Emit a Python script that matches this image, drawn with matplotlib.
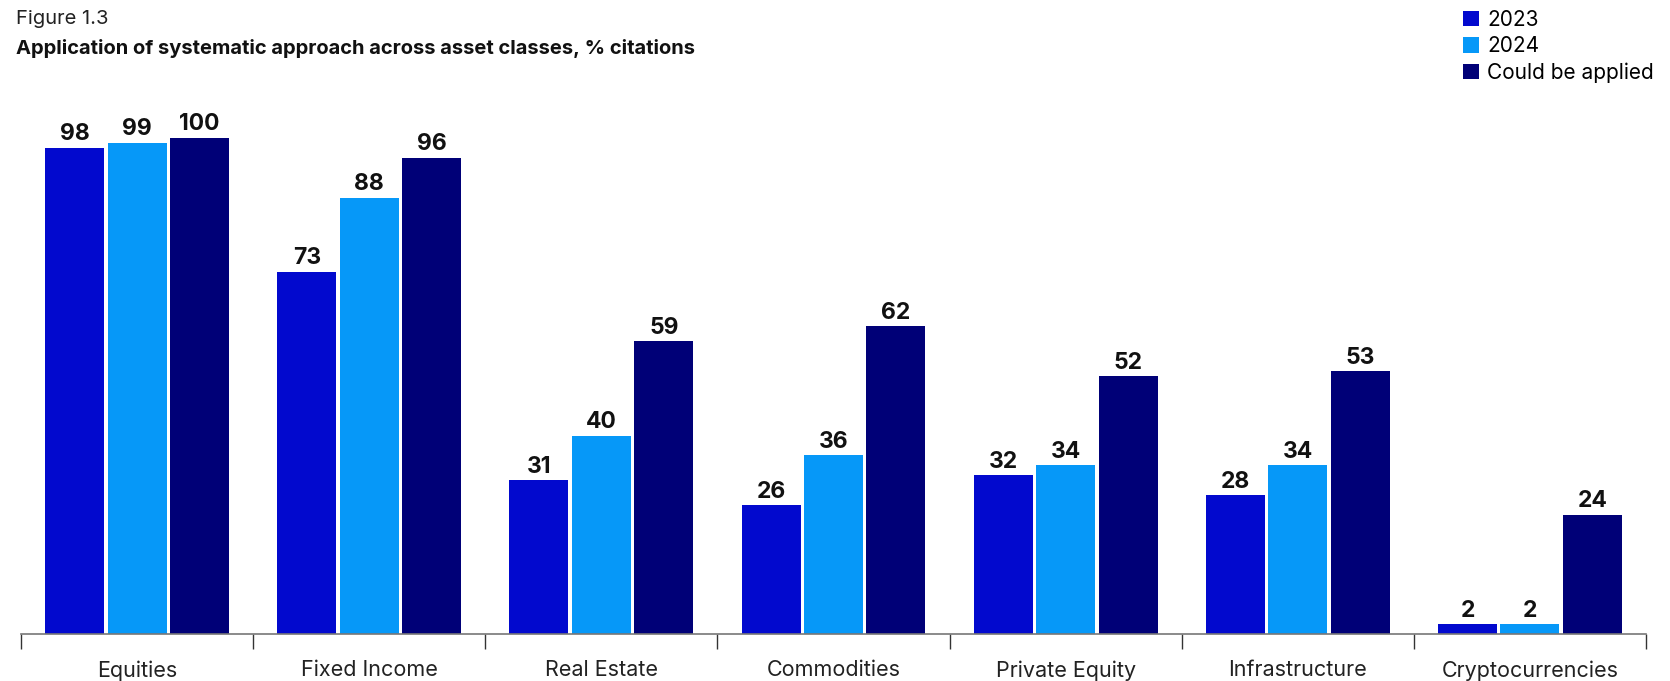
import numpy as np
import matplotlib.pyplot as plt
from matplotlib.patches import Patch

plt.rcParams['font.family'] = ['Inter', 'DejaVu Sans']

categories = ['Equities', 'Fixed Income', 'Real Estate', 'Commodities',
              'Private Equity', 'Infrastructure', 'Cryptocurrencies']
series_names = ['2023', '2024', 'Could be applied']
vals_2023 = [98, 73, 31, 26, 32, 28, 2]
vals_2024 = [99, 88, 40, 36, 34, 34, 2]
vals_could = [100, 96, 59, 62, 52, 53, 24]
colors = ['#0209CE', '#0698F8', '#000077']

fig = plt.figure(figsize=(16.7, 6.81), dpi=100)
ax = fig.add_axes([21/1670, 1 - 634/681, (1646 - 21)/1670, (634 - 138)/681])

x = np.arange(len(categories))
w = 0.254
step = 0.269
for i, (vals, c) in enumerate(zip([vals_2023, vals_2024, vals_could], colors)):
    pos = x + (i - 1) * step
    bars = ax.bar(pos, vals, width=w, color=c, zorder=2)
    for b, v in zip(bars, vals):
        ax.annotate(str(v), (b.get_x() + b.get_width() / 2, v), xytext=(0, 1.8),
                    textcoords='offset points', ha='center', va='bottom',
                    fontsize=16.5, fontweight='bold', color='#111111',
                    annotation_clip=False)

ax.set_xlim(-0.5, len(categories) - 0.5)
ax.set_ylim(0, 100)
for s in ['top', 'right', 'left']:
    ax.spines[s].set_visible(False)
ax.spines['bottom'].set_color('#777777')
ax.spines['bottom'].set_linewidth(1.2)
ax.set_yticks([])

# group boundaries as ticks, labels sit on minor ticks at centers
ax.set_xticks(np.arange(len(categories) + 1) - 0.5)
ax.set_xticklabels([])
ax.tick_params(axis='x', which='major', length=11, width=1, color='#333333')
ax.set_xticks(x, minor=True)
ax.set_xticklabels(categories, minor=True, fontsize=15.5, color='#222222')
ax.tick_params(axis='x', which='minor', length=0, pad=19)

fig.text(16/1670, 1 - 19/681, 'Figure 1.3', fontsize=14.5, color='#222222', va='center')
fig.text(16/1670, 1 - 48/681, 'Application of systematic approach across asset classes, % citations',
         fontsize=14.5, fontweight='bold', color='#111111', va='center')

handles = [Patch(facecolor=c, label=n) for c, n in zip(colors, series_names)]
fig.legend(handles=handles, loc='upper left', bbox_to_anchor=(1463/1670, 1 - 10/681),
           frameon=False, fontsize=15, handlelength=0.75, handleheight=0.75,
           handletextpad=0.4, labelspacing=0.3, borderpad=0, borderaxespad=0)

fig.savefig('out.png', dpi=100)
